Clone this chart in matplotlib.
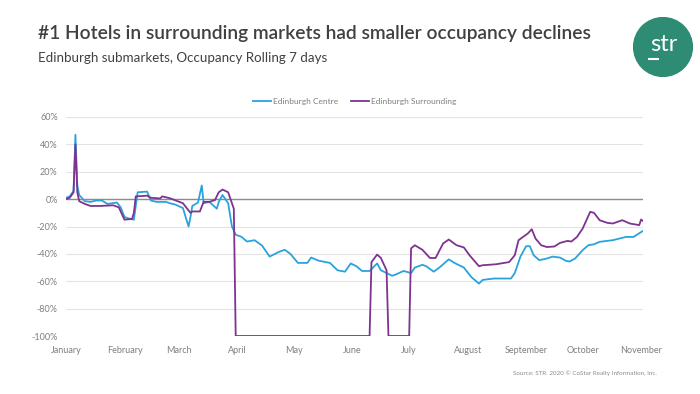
import numpy as np
import matplotlib
matplotlib.use("Agg")
import matplotlib.pyplot as plt
import matplotlib.dates as mdates
from matplotlib.patches import Circle

# 1: Data (days since 1 Jan 2020, occupancy change in %)
centre_days = [0, 2, 4, 5, 6, 7, 10, 13, 16, 19, 22, 27, 29, 31, 33, 36, 37, 38, 43, 45,
               48, 53, 55, 58, 62, 65, 66, 67, 70, 72, 73, 76, 80, 81, 83, 86, 88, 90,
               93, 96, 100, 104, 108, 113, 116, 119, 123, 128, 130, 134, 140, 144, 148,
               151, 154, 157, 161, 165, 167, 170, 173, 175, 179, 183, 185, 189, 191,
               195, 198, 203, 206, 211, 215, 219, 221, 227, 236, 238, 241, 244, 246,
               248, 251, 255, 258, 262, 265, 267, 270, 274, 277, 280, 283, 290, 297,
               301, 306]
centre_occ = [1, 2, 6, 47, 10, 3, -1.5, -2, -1, -1, -3.5, -2.5, -6, -13, -14, -15, -5, 5,
              5.5, -1, -2, -2, -3, -4, -6.5, -20, -13, -5, -2.5, 10, -3, -2, -7, -2, 3,
              -3, -20, -26, -27.5, -31, -30, -34, -42, -38.5, -37, -40, -46.6, -46.6,
              -42.7, -45, -46.6, -52, -53, -47, -49, -52.5, -52.5, -47, -52, -54, -56,
              -55, -52.5, -54, -50, -48, -49, -53, -50, -44, -46.6, -50, -57, -61.7,
              -59, -58, -58, -54, -42, -34.4, -34.4, -41, -44.6, -43.4, -42, -42.7, -45,
              -45.6, -43.4, -37.3, -33.7, -33, -31.2, -30, -27.6, -27.6, -23.2]

surr_days = [0, 2, 4, 5, 6, 7, 10, 13, 18, 25, 28, 31, 35, 36, 37, 43, 45, 50, 51, 55,
             62, 66, 67, 71, 73, 76, 79, 81, 83, 86, 88, 89, 90, 161, 162, 165, 167,
             170, 171, 182, 183, 185, 189, 193, 196, 200, 203, 207, 211, 214, 219, 221,
             228, 235, 238, 240, 245, 247, 249, 252, 255, 259, 262, 266, 268, 271, 274,
             278, 280, 283, 287, 290, 295, 299, 304, 305, 306]
surr_occ = [0, 1, 5, 40, 5, -1.5, -3.5, -5, -5, -4.5, -6, -15, -14.5, -10, 2, 2.5, 1,
            0.5, 2, 0.7, -3, -10, -9, -9, -2, -2, -0.7, 5, 7, 5, -3, -7, -100, -100,
            -46, -40.5, -43, -52, -100, -100, -36, -33.7, -37, -43, -43, -32.4, -29.5,
            -33.6, -35.3, -41, -49, -48.3, -47.6, -46, -41, -30, -25, -22, -28.8,
            -33.7, -35, -34.6, -32, -30.5, -31, -27.6, -21.5, -9.3, -10, -15.4, -17.3,
            -17.8, -15.4, -17.8, -19, -14.9, -16]

start = np.datetime64("2020-01-01")
centre_dates = start + np.array(centre_days)
surr_dates = start + np.array(surr_days)

# 2: Plot
plt.rcParams["font.family"] = ["Lato", "DejaVu Sans"]
fig = plt.figure(figsize=(7, 3.94), dpi=100)
ax = fig.add_axes([66 / 700, 1 - 336 / 394, (643 - 66) / 700, (336 - 117) / 394])

blue = "#2aa3dc"
purple = "#7e3391"
ax.plot(centre_dates, centre_occ, color=blue, lw=1.3, label="Edinburgh Centre", zorder=3)
ax.plot(surr_dates, surr_occ, color=purple, lw=1.3, label="Edinburgh Surrounding", zorder=4)

ax.set_ylim(-100, 60)
ax.set_xlim(start, start + np.timedelta64(306, "D"))
ax.set_yticks(np.arange(-100, 61, 20))
ax.set_yticklabels([f"{v}%" for v in range(-100, 61, 20)])
ax.xaxis.set_major_locator(mdates.MonthLocator())
ax.xaxis.set_major_formatter(mdates.DateFormatter("%B"))
ax.grid(axis="y", color="#e3e3e3", lw=0.8)
ax.axhline(0, color="#8c8c8c", lw=1.0, zorder=2)
for s in ax.spines.values():
    s.set_visible(False)
ax.tick_params(length=0, colors="#7f7f7f", labelsize=6.5)
ax.tick_params(axis="x", pad=7)
ax.tick_params(axis="y", pad=6)

leg = ax.legend(loc="lower center", bbox_to_anchor=(0.5, 1.02), ncol=2, frameon=False,
                fontsize=6, handlelength=2.2, columnspacing=1.6, handletextpad=0.2)
for t in leg.get_texts():
    t.set_color("#7f7f7f")

fig.text(38 / 700, 1 - 33 / 394, "#1 Hotels in surrounding markets had smaller occupancy declines",
         fontsize=13.8, fontweight="semibold", color="#404040", va="center")
fig.text(38 / 700, 1 - 58 / 394, "Edinburgh submarkets, Occupancy Rolling 7 days",
         fontsize=9.6, color="#404040", va="center")
fig.text(657 / 700, 1 - 373 / 394, "Source: STR. 2020 \u00a9 CoStar Realty Information, Inc.",
         fontsize=4.5, color="#8c8c8c", ha="right", va="center")

# logo
logo = fig.add_axes([633 / 700, 1 - 77 / 394, 60 / 700, 60 / 394])
logo.set_xlim(0, 1)
logo.set_ylim(0, 1)
logo.set_aspect("equal")
logo.axis("off")
logo.add_patch(Circle((0.5, 0.5), 0.49, color="#2e8b74"))
logo.text(0.52, 0.54, "str", color="white", fontsize=17, ha="center", va="center")
logo.plot([0.27, 0.42], [0.3, 0.3], color="white", lw=1.5)

fig.savefig("out.png", dpi=100)
